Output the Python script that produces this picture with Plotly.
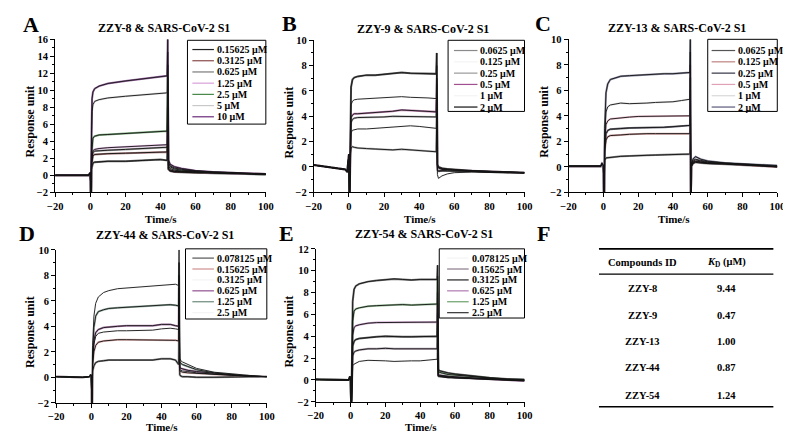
import plotly.graph_objects as go

W, H = 791, 432
FONT = "Liberation Serif"

# ---------------- data ----------------
title_A = "ZZY-8 & SARS-CoV-2 S1"
conc_A = ["0.15625 μM", "0.3125 μM", "0.625 μM", "1.25 μM", "2.5 μM", "5 μM", "10 μM"]
colors_A = ["#222222", "#8b4a4a", "#7a7a7a", "#d9a0d9", "#4a8a4a", "#c8c8c8", "#6a2a7a"]
time_A = [-20, -10, -3, -1, 0, 0.4, 0.7, 1.0, 1.5, 2.5, 5, 10, 20, 30, 40, 43.8, 44.1, 44.5, 45.5, 48, 52, 60, 70, 80, 90, 100]
resp_A = [
    [0.0, -0.03, -0.05, 0.0, 0.3, -3.0, 0.7, 1.3, 1.45, 1.55, 1.6, 1.65, 1.65, 1.75, 1.85, 1.75, 6.0, 0.7, 0.5, 0.4, 0.35, 0.3, 0.25, 0.2, 0.15, 0.1],
    [0.0, -0.03, -0.05, 0.0, 0.3, -3.0, 1.1, 2.0, 2.3, 2.45, 2.5, 2.55, 2.6, 2.65, 2.75, 2.75, 8.0, 0.8, 0.55, 0.45, 0.4, 0.35, 0.3, 0.25, 0.2, 0.15],
    [0.0, -0.03, -0.05, 0.0, 0.3, -3.0, 1.4, 2.4, 2.7, 2.85, 2.9, 2.95, 3.05, 3.15, 3.25, 3.3, 10.0, 0.9, 0.65, 0.5, 0.45, 0.35, 0.3, 0.25, 0.2, 0.15],
    [0.0, -0.03, -0.05, 0.0, 0.3, -3.0, 1.5, 2.6, 2.9, 3.05, 3.15, 3.25, 3.35, 3.45, 3.55, 3.6, 11.5, 1.1, 0.8, 0.6, 0.5, 0.4, 0.3, 0.25, 0.2, 0.1],
    [0.0, -0.03, -0.05, 0.0, 0.3, -3.0, 2.2, 3.9, 4.4, 4.6, 4.75, 4.8, 4.9, 5.0, 5.15, 5.2, 13.0, 1.3, 1.0, 0.75, 0.6, 0.45, 0.35, 0.3, 0.2, 0.1],
    [0.0, -0.03, -0.05, 0.0, 0.3, -3.0, 4.0, 7.5, 8.3, 8.7, 8.9, 9.1, 9.3, 9.5, 9.65, 9.7, 14.5, 1.5, 1.1, 0.85, 0.7, 0.5, 0.4, 0.3, 0.25, 0.15],
    [0.0, -0.03, -0.05, 0.0, 0.3, -3.0, 5.0, 9.0, 9.8, 10.2, 10.5, 10.8, 11.1, 11.35, 11.6, 11.7, 16.0, 1.8, 1.3, 1.0, 0.8, 0.55, 0.4, 0.3, 0.2, 0.15],
]
yrange_A = [-2, 16]

title_B = "ZZY-9 & SARS-CoV-2 S1"
conc_B = ["0.0625 μM", "0.125 μM", "0.25 μM", "0.5 μM", "1 μM", "2 μM"]
colors_B = ["#8a8a8a", "#f4f4f4", "#9a9a9a", "#a05090", "#f4f4f4", "#111111"]
time_B = [-20, -15, -10, -5, -2, -1, -0.3, 0.0, 0.3, 0.7, 1.2, 2, 3, 5, 10, 15, 20, 25, 30, 35, 40, 45, 49.7, 50.0, 50.4, 51, 53, 56, 60, 70, 80, 90, 100]
resp_B = [
    [0.15, 0.05, 0.0, -0.1, -0.2, -0.4, 0.5, 1.0, -3.0, 0.8, 1.5, 1.6, 1.55, 1.5, 1.45, 1.4, 1.4, 1.35, 1.4, 1.35, 1.3, 1.25, 1.2, 4.0, -0.3, -0.35, -0.3, -0.3, -0.3, -0.35, -0.4, -0.45, -0.45],
    [0.15, 0.05, 0.0, -0.1, -0.2, -0.4, 0.5, 1.0, -3.0, 1.6, 2.7, 2.9, 2.95, 3.0, 3.0, 3.05, 3.1, 3.15, 3.2, 3.25, 3.2, 3.1, 3.05, 5.5, -0.6, -0.9, -0.7, -0.55, -0.45, -0.4, -0.45, -0.45, -0.5],
    [0.15, 0.05, 0.0, -0.1, -0.2, -0.4, 0.5, 1.0, -3.0, 2.0, 3.5, 3.75, 3.85, 3.9, 3.9, 3.9, 3.95, 4.0, 4.0, 3.95, 3.95, 3.95, 3.95, 6.5, -0.2, -0.3, -0.3, -0.3, -0.3, -0.35, -0.4, -0.4, -0.45],
    [0.15, 0.05, 0.0, -0.1, -0.2, -0.4, 0.5, 1.0, -3.0, 2.2, 3.9, 4.1, 4.2, 4.2, 4.25, 4.25, 4.3, 4.4, 4.5, 4.45, 4.4, 4.35, 4.35, 7.0, 0.0, -0.1, -0.2, -0.2, -0.25, -0.3, -0.35, -0.4, -0.45],
    [0.15, 0.05, 0.0, -0.1, -0.2, -0.4, 0.5, 1.0, -3.0, 2.8, 4.9, 5.2, 5.3, 5.35, 5.4, 5.4, 5.45, 5.5, 5.55, 5.5, 5.5, 5.45, 5.4, 8.0, 0.1, -0.05, -0.15, -0.2, -0.25, -0.3, -0.35, -0.4, -0.45],
    [0.15, 0.05, 0.0, -0.1, -0.2, -0.4, 0.5, 1.0, -3.0, 3.5, 6.3, 6.9, 7.05, 7.15, 7.25, 7.25, 7.3, 7.4, 7.45, 7.4, 7.4, 7.35, 7.35, 9.0, 0.2, 0.0, -0.1, -0.15, -0.2, -0.3, -0.35, -0.4, -0.45],
]
yrange_B = [-2, 10]

title_C = "ZZY-13 & SARS-CoV-2 S1"
conc_C = ["0.0625 μM", "0.125 μM", "0.25 μM", "0.5 μM", "1 μM", "2 μM"]
colors_C = ["#555555", "#c08080", "#333344", "#e0a0b8", "#d8d8d8", "#5a5a7a"]
time_C = [-20, -10, -5, -1.5, -0.8, 0.0, 0.4, 0.8, 1.5, 2.5, 4, 7, 10, 15, 20, 25, 30, 35, 40, 45, 49.8, 50.0, 50.3, 50.6, 51.5, 53, 56, 60, 70, 80, 90, 100]
resp_C = [
    [0.05, 0.05, 0.0, 0.05, 0.25, 0.1, -3.0, 0.5, 0.7, 0.72, 0.75, 0.78, 0.82, 0.85, 0.9, 0.9, 0.92, 0.95, 0.95, 0.97, 1.0, 4.0, -2.5, 0.0, 0.25, 0.35, 0.3, 0.25, 0.2, 0.15, 0.05, 0.0],
    [0.05, 0.05, 0.0, 0.05, 0.25, 0.1, -3.0, 1.2, 2.1, 2.35, 2.45, 2.5, 2.5, 2.55, 2.6, 2.6, 2.6, 2.6, 2.6, 2.6, 2.6, 6.0, -2.5, 0.0, 0.3, 0.4, 0.35, 0.3, 0.25, 0.15, 0.05, 0.0],
    [0.05, 0.05, 0.0, 0.05, 0.25, 0.1, -3.0, 1.5, 2.6, 2.85, 2.95, 3.0, 3.0, 3.05, 3.05, 3.1, 3.1, 3.1, 3.15, 3.2, 3.25, 7.0, -2.5, 0.05, 0.35, 0.45, 0.4, 0.3, 0.25, 0.2, 0.1, 0.0],
    [0.05, 0.05, 0.0, 0.05, 0.25, 0.1, -3.0, 1.8, 3.3, 3.6, 3.75, 3.8, 3.85, 3.9, 3.95, 3.95, 3.95, 3.95, 3.95, 3.95, 4.0, 8.0, -2.5, 0.1, 0.4, 0.55, 0.45, 0.35, 0.25, 0.2, 0.1, 0.0],
    [0.05, 0.05, 0.0, 0.05, 0.25, 0.1, -3.0, 2.3, 4.3, 4.7, 4.85, 4.95, 5.0, 4.95, 4.95, 5.0, 5.05, 5.05, 5.1, 5.2, 5.3, 9.0, -2.5, 0.2, 0.5, 0.6, 0.5, 0.4, 0.3, 0.2, 0.1, 0.05],
    [0.05, 0.05, 0.0, 0.05, 0.25, 0.1, -3.0, 3.0, 5.8, 6.5, 6.85, 7.0, 7.1, 7.15, 7.2, 7.25, 7.3, 7.3, 7.3, 7.35, 7.4, 10.0, -2.5, 0.3, 0.6, 0.8, 0.6, 0.45, 0.3, 0.25, 0.15, 0.1],
]
yrange_C = [-2, 10]

title_D = "ZZY-44 & SARS-CoV-2 S1"
conc_D = ["0.078125 μM", "0.15625 μM", "0.3125 μM", "0.625 μM", "1.25 μM", "2.5 μM"]
colors_D = ["#555555", "#d09090", "#f4f4f4", "#905090", "#6a8a7a", "#f4f4f4"]
time_D = [-20, -10, -5, -1, -0.3, 0.0, 0.4, 0.8, 1.5, 2.5, 4, 7, 10, 15, 20, 25, 30, 35, 40, 45, 48, 49.8, 50.0, 50.4, 51, 52, 55, 60, 70, 80, 90, 100]
resp_D = [
    [0.05, 0.0, 0.0, 0.05, 0.2, 0.1, -3.0, 0.5, 0.9, 1.15, 1.25, 1.3, 1.35, 1.35, 1.35, 1.35, 1.35, 1.35, 1.45, 1.45, 1.35, 1.0, 5.0, 0.2, 0.1, 0.05, 0.05, 0.0, 0.0, 0.05, 0.05, 0.05],
    [0.05, 0.0, 0.0, 0.05, 0.2, 0.1, -3.0, 1.0, 2.0, 2.5, 2.75, 2.85, 2.9, 2.95, 2.95, 2.95, 2.95, 2.95, 2.95, 2.95, 2.9, 2.85, 6.0, 0.5, 0.45, 0.4, 0.35, 0.3, 0.2, 0.15, 0.1, 0.05],
    [0.05, 0.0, 0.0, 0.05, 0.2, 0.1, -3.0, 1.3, 2.6, 3.2, 3.45, 3.55, 3.6, 3.65, 3.65, 3.65, 3.7, 3.7, 3.8, 3.85, 3.8, 3.75, 7.0, 0.6, 0.55, 0.5, 0.45, 0.35, 0.25, 0.15, 0.1, 0.05],
    [0.05, 0.0, 0.0, 0.05, 0.2, 0.1, -3.0, 1.5, 2.9, 3.5, 3.75, 3.9, 3.95, 4.0, 4.05, 4.05, 4.0, 4.05, 4.15, 4.15, 4.05, 4.0, 8.0, 0.8, 0.7, 0.65, 0.55, 0.45, 0.3, 0.2, 0.1, 0.05],
    [0.05, 0.0, 0.0, 0.05, 0.2, 0.1, -3.0, 2.0, 3.9, 4.8, 5.15, 5.3, 5.4, 5.45, 5.5, 5.5, 5.55, 5.6, 5.7, 5.7, 5.65, 5.6, 9.0, 1.2, 1.1, 1.0, 0.85, 0.6, 0.35, 0.2, 0.1, 0.05],
    [0.05, 0.0, 0.0, 0.05, 0.2, 0.1, -3.0, 2.5, 4.8, 5.8, 6.3, 6.65, 6.8, 6.95, 7.0, 7.1, 7.15, 7.15, 7.25, 7.3, 7.3, 7.2, 10.0, 1.5, 1.3, 1.2, 1.0, 0.7, 0.4, 0.25, 0.15, 0.05],
]
yrange_D = [-2, 10]

title_E = "ZZY-54 & SARS-CoV-2 S1"
conc_E = ["0.078125 μM", "0.15625 μM", "0.3125 μM", "0.625 μM", "1.25 μM", "2.5 μM"]
colors_E = ["#f4f4f4", "#8a7a8a", "#222222", "#b07ab0", "#6aa06a", "#333333"]
time_E = [-20, -10, -5, -1, -0.4, 0.0, 0.4, 0.8, 1.2, 2, 3, 5, 10, 15, 20, 25, 30, 35, 40, 45, 49.8, 50.0, 50.4, 51, 53, 56, 60, 70, 80, 90, 100]
resp_E = [
    [0.05, 0.05, 0.0, 0.0, 0.3, 0.1, -3.0, 0.8, 1.3, 1.45, 1.55, 1.7, 1.8, 1.8, 1.75, 1.7, 1.75, 1.75, 1.75, 1.8, 1.9, 5.0, 0.3, 0.3, 0.25, 0.2, 0.2, 0.1, 0.05, 0.0, 0.0],
    [0.05, 0.05, 0.0, 0.0, 0.3, 0.1, -3.0, 1.2, 2.2, 2.55, 2.65, 2.75, 2.85, 2.85, 2.9, 2.85, 2.85, 2.85, 2.85, 2.85, 2.85, 6.0, 0.4, 0.35, 0.3, 0.25, 0.2, 0.15, 0.05, 0.0, -0.05],
    [0.05, 0.05, 0.0, 0.0, 0.3, 0.1, -3.0, 1.7, 3.1, 3.55, 3.7, 3.8, 3.9, 3.95, 4.0, 3.95, 3.95, 3.95, 3.95, 4.0, 4.0, 7.0, 0.45, 0.4, 0.35, 0.3, 0.25, 0.15, 0.1, 0.0, -0.05],
    [0.05, 0.05, 0.0, 0.0, 0.3, 0.1, -3.0, 2.3, 4.1, 4.8, 4.95, 5.05, 5.2, 5.25, 5.25, 5.3, 5.3, 5.25, 5.25, 5.3, 5.3, 8.0, 0.5, 0.45, 0.4, 0.35, 0.3, 0.2, 0.1, 0.0, -0.1],
    [0.05, 0.05, 0.0, 0.0, 0.3, 0.1, -3.0, 3.0, 5.4, 6.3, 6.5, 6.6, 6.75, 6.8, 6.85, 6.9, 6.9, 6.85, 6.9, 6.95, 6.95, 9.5, 0.8, 0.7, 0.6, 0.5, 0.45, 0.3, 0.15, 0.05, 0.0],
    [0.05, 0.05, 0.0, 0.0, 0.3, 0.1, -3.0, 5.5, 7.2, 8.3, 8.6, 8.8, 9.0, 9.1, 9.15, 9.25, 9.2, 9.15, 9.2, 9.2, 9.2, 10.5, 1.0, 0.85, 0.75, 0.65, 0.55, 0.35, 0.2, 0.1, 0.05],
]
yrange_E = [-2, 12]

x_ticks = [-20, 0, 20, 40, 60, 80, 100]
table_header = ["Compounds ID", "<i>K</i><sub>D</sub> (μM)"]
compounds = ["ZZY-8", "ZZY-9", "ZZY-13", "ZZY-44", "ZZY-54"]
kd_values = ["9.44", "0.47", "1.00", "0.87", "1.24"]

# ---------------- layout helpers ----------------
def fx(p):
    return p / W

def fy(p):
    return 1 - p / H

panels = [
    dict(letter="A", letter_xy=(15, 12), title=title_A, t=time_A, resp=resp_A, labels=conc_A, colors=colors_A, yr=yrange_A,
         box=(40, 255, 27, 184), title_y=15, xt_y=211, yt_x=14,
         leg=dict(x0=175, x1=255, y0=28, y1=114, r0=37.5, step=11.5, lx0=180, lx1=202, tx=203)),
    dict(letter="B", letter_xy=(279, 11), title=title_B, t=time_B, resp=resp_B, labels=conc_B, colors=colors_B, yr=yrange_B,
         box=(304, 519, 28, 184), title_y=16, xt_y=211, yt_x=279,
         leg=dict(x0=441, x1=519, y0=28, y1=101, r0=38.5, step=11.6, lx0=447, lx1=471, tx=472)),
    dict(letter="C", letter_xy=(538, 11), title=title_C, t=time_C, resp=resp_C, labels=conc_C, colors=colors_C, yr=yrange_C,
         box=(564, 777, 27, 184), title_y=15, xt_y=211, yt_x=539,
         leg=dict(x0=706, x1=777, y0=27, y1=101, r0=38.5, step=11.6, lx0=710, lx1=734, tx=735)),
    dict(letter="D", letter_xy=(11, 226), title=title_D, t=time_D, resp=resp_D, labels=conc_D, colors=colors_D, yr=yrange_D,
         box=(41, 256, 243, 400), title_y=228, xt_y=425, yt_x=14,
         leg=dict(x0=173, x1=256, y0=242, y1=314, r0=251.5, step=11.2, lx0=180, lx1=202, tx=203)),
    dict(letter="E", letter_xy=(276, 226), title=title_E, t=time_E, resp=resp_E, labels=conc_E, colors=colors_E, yr=yrange_E,
         box=(306, 519, 242, 399), title_y=227, xt_y=425, yt_x=279,
         leg=dict(x0=432, x1=519, y0=242, y1=313, r0=251.5, step=11.2, lx0=440, lx1=462, tx=463)),
]

fig = go.Figure()
shapes = []
annotations = []
layout_axes = {}

tickfont = dict(family=FONT, size=10.5, color="black", weight="bold")

for i, p in enumerate(panels, start=1):
    sfx = "" if i == 1 else str(i)
    x0, x1, y0, y1 = p["box"]
    layout_axes["xaxis" + sfx] = dict(
        domain=[fx(x0), fx(x1)], range=[-20, 100], anchor="y" + sfx,
        tickmode="array", tickvals=x_ticks, ticks="outside", ticklen=4, tickwidth=1, tickcolor="black",
        minor=dict(ticks="outside", ticklen=2, dtick=10, tick0=-20, tickcolor="black", showgrid=False),
        showline=True, linecolor="black", linewidth=1, showgrid=False, zeroline=False,
        tickfont=tickfont, fixedrange=True,
    )
    layout_axes["yaxis" + sfx] = dict(
        domain=[fy(y1), fy(y0)], range=p["yr"], anchor="x" + sfx,
        dtick=2, tick0=0, ticks="outside", ticklen=4, tickwidth=1, tickcolor="black",
        minor=dict(ticks="outside", ticklen=2, dtick=1, tickcolor="black", showgrid=False),
        showline=True, linecolor="black", linewidth=1, showgrid=False, zeroline=False,
        tickfont=tickfont, fixedrange=True,
    )
    for j, ys in enumerate(p["resp"]):
        fig.add_trace(go.Scatter(x=p["t"], y=ys, mode="lines", xaxis="x" + sfx, yaxis="y" + sfx,
                                 line=dict(color=p["colors"][j], width=2.0), opacity=0.7, showlegend=False,
                                 hoverinfo="skip"))
    for j, ys in enumerate(p["resp"]):
        fig.add_trace(go.Scatter(x=p["t"], y=ys, mode="lines", xaxis="x" + sfx, yaxis="y" + sfx,
                                 line=dict(color="#151515", width=1.0), opacity=0.9, showlegend=False,
                                 hoverinfo="skip"))
    cx = (x0 + x1) / 2
    annotations.append(dict(text="<b>" + p["title"] + "</b>", x=fx(cx + 4), y=fy(p["title_y"]), xref="paper", yref="paper",
                            xanchor="center", yanchor="middle", showarrow=False,
                            font=dict(family=FONT, size=12, color="black")))
    annotations.append(dict(text="<b>" + p["letter"] + "</b>", x=fx(p["letter_xy"][0]), y=fy(p["letter_xy"][1]),
                            xref="paper", yref="paper", xanchor="center", yanchor="middle", showarrow=False,
                            font=dict(family=FONT, size=22, color="black")))
    annotations.append(dict(text="<b>Time/s</b>", x=fx(cx + 1), y=fy(p["xt_y"]), xref="paper", yref="paper",
                            xanchor="center", yanchor="middle", showarrow=False,
                            font=dict(family=FONT, size=11, color="black")))
    annotations.append(dict(text="<b>Response unit</b>", x=fx(p["yt_x"]), y=fy((y0 + y1) / 2 + 6), xref="paper", yref="paper",
                            xanchor="center", yanchor="middle", showarrow=False, textangle=-90,
                            font=dict(family=FONT, size=12, color="black")))
    lg = p["leg"]
    shapes.append(dict(type="rect", xref="paper", yref="paper", x0=fx(lg["x0"]), x1=fx(lg["x1"]),
                       y0=fy(lg["y1"]), y1=fy(lg["y0"]), line=dict(color="black", width=1), fillcolor="white"))
    for j, lab in enumerate(p["labels"]):
        ry = lg["r0"] + j * lg["step"]
        shapes.append(dict(type="line", xref="paper", yref="paper", x0=fx(lg["lx0"]), x1=fx(lg["lx1"]),
                           y0=fy(ry), y1=fy(ry), line=dict(color=p["colors"][j], width=1.2)))
        annotations.append(dict(text="<b>" + lab + "</b>", x=fx(lg["tx"]), y=fy(ry), xref="paper", yref="paper",
                                xanchor="left", yanchor="middle", showarrow=False,
                                font=dict(family=FONT, size=10, color="black")))

# ---------------- panel F: table ----------------
annotations.append(dict(text="<b>F</b>", x=fx(538), y=fy(226), xref="paper", yref="paper",
                        xanchor="center", yanchor="middle", showarrow=False,
                        font=dict(family=FONT, size=22, color="black")))
tx0, tx1 = 595, 773
col_x = [639, 725]
for yy, wdt in [(242, 1.6), (268, 1.2), (404, 1.6)]:
    shapes.append(dict(type="line", xref="paper", yref="paper", x0=fx(tx0), x1=fx(tx1), y0=fy(yy), y1=fy(yy),
                       line=dict(color="black", width=wdt)))
for k, h in enumerate(table_header):
    annotations.append(dict(text="<b>" + h + "</b>", x=fx(col_x[k]), y=fy(256), xref="paper", yref="paper",
                            xanchor="center", yanchor="middle", showarrow=False,
                            font=dict(family=FONT, size=10.5, color="black")))
row_y = [283, 310, 337, 364, 392]
for k, (c, v) in enumerate(zip(compounds, kd_values)):
    for cxp, txt in zip(col_x, [c, v]):
        annotations.append(dict(text="<b>" + txt + "</b>", x=fx(cxp), y=fy(row_y[k]), xref="paper", yref="paper",
                                xanchor="center", yanchor="middle", showarrow=False,
                                font=dict(family=FONT, size=10.5, color="black")))

fig.update_layout(width=W, height=H, margin=dict(l=0, r=0, t=0, b=0), paper_bgcolor="white",
                  plot_bgcolor="white", shapes=shapes, annotations=annotations, showlegend=False,
                  font=dict(family=FONT, color="black"), **layout_axes)

fig.write_html("out.html")
